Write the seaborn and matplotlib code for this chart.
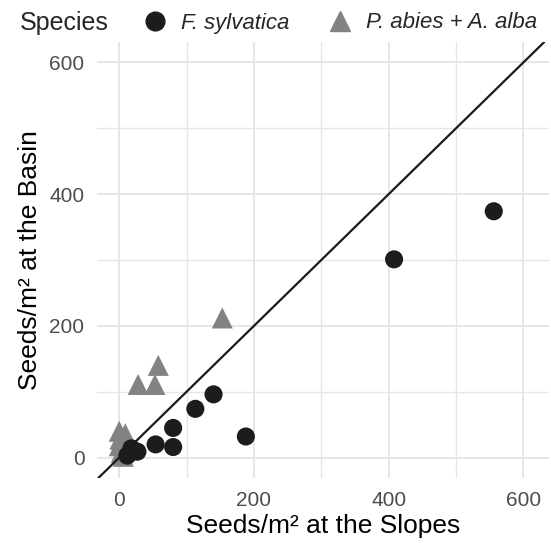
import matplotlib
matplotlib.use("Agg")
import matplotlib.pyplot as plt
import seaborn as sns
import pandas as pd
from matplotlib.ticker import MultipleLocator
from matplotlib.lines import Line2D

# ---- data ----
species_names = ["F. sylvatica", "P. abies + A. alba"]

fs_slopes = [556, 408, 140, 113, 80, 80, 54, 188, 27, 18, 12]
fs_basin = [374, 301, 96, 74, 45, 16, 20, 32, 9, 14, 3]

pa_slopes = [153, 58, 28, 53, 0, 9, 1, 0, 3, 6]
pa_basin = [212, 140, 111, 111, 40, 36, 28, 18, 8, 2]

x_ticks = [0, 200, 400, 600]
y_ticks = [0, 200, 400, 600]

df = pd.concat([
    pd.DataFrame({"slopes": pa_slopes, "basin": pa_basin, "Species": species_names[1]}),
    pd.DataFrame({"slopes": fs_slopes, "basin": fs_basin, "Species": species_names[0]}),
], ignore_index=True)

sns.set_theme(style="whitegrid")
plt.rcParams["font.family"] = ["Liberation Sans", "DejaVu Sans"]

fig = plt.figure(figsize=(5.51, 5.43), dpi=100)
ax = fig.add_axes([97 / 551, 1 - 478 / 543, 452 / 551, 436 / 543])

palette = {species_names[0]: "#1c1c1c", species_names[1]: "#838383"}
markers = {species_names[0]: "o", species_names[1]: "^"}
sizes = {species_names[0]: 170, species_names[1]: 230}

sns.scatterplot(data=df, x="slopes", y="basin", hue="Species", style="Species",
                size="Species", sizes=sizes,
                hue_order=species_names, style_order=species_names,
                size_order=species_names,
                palette=palette, markers=markers, linewidth=0,
                ax=ax, legend=False, zorder=3)

ax.axline((0, 0), slope=1, color="#1a1a1a", lw=1.6, zorder=4)

ax.set_xlim(-33, 638)
ax.set_ylim(-31, 631)
ax.set_xticks(x_ticks)
ax.set_yticks(y_ticks)
ax.xaxis.set_minor_locator(MultipleLocator(100))
ax.yaxis.set_minor_locator(MultipleLocator(100))
ax.grid(which="major", color="#e6e6e6", lw=1.4)
ax.grid(which="minor", color="#e6e6e6", lw=1.0)
ax.set_axisbelow(True)
for sp in ax.spines.values():
    sp.set_visible(False)
ax.tick_params(which="both", length=0, labelsize=15, labelcolor="#4d4d4d", pad=9)

ax.set_xlabel("Seeds/m² at the Slopes", fontsize=19, color="black", labelpad=3)
ax.set_ylabel("Seeds/m² at the Basin", fontsize=19, color="black", labelpad=5)

# legend on top
handles = [
    Line2D([], [], marker="o", ls="", color=palette[species_names[0]], markersize=13.5),
    Line2D([], [], marker="^", ls="", color=palette[species_names[1]], markersize=14),
]
leg = fig.legend(handles, species_names, loc="center left", ncol=2,
                 bbox_to_anchor=(142 / 551, 1 - 23 / 543), frameon=False,
                 prop={"style": "italic", "size": 16}, handletextpad=0.55,
                 columnspacing=1.7, handlelength=1.2, borderaxespad=0, borderpad=0)
fig.text(20 / 551, 1 - 23 / 543, "Species", fontsize=18, va="center", ha="left")

fig.savefig("out.png", dpi=100)
